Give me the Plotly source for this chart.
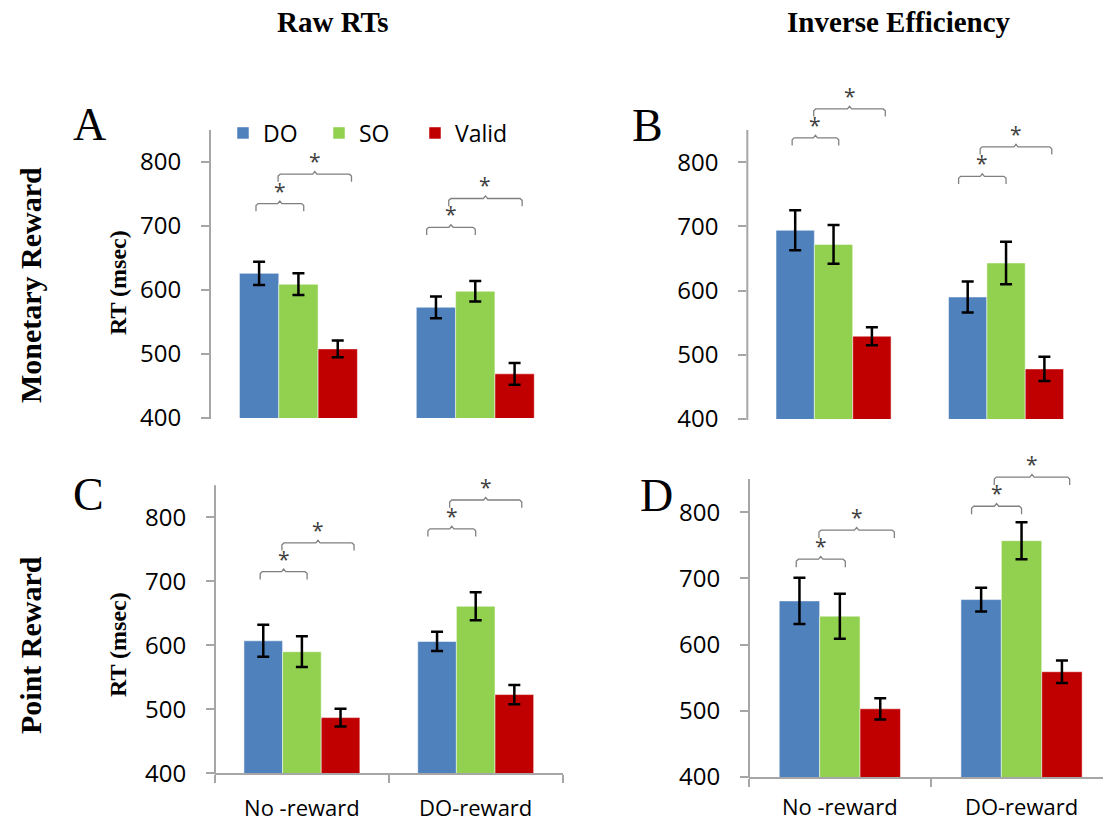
import plotly.graph_objects as go

# ---------------- data ----------------
groups = ["No -reward", "DO-reward"]
series = ["DO", "SO", "Valid"]
colors = ["#4F81BD", "#92D050", "#C00000"]
yticks = [400, 500, 600, 700, 800]

# Panel A: Raw RTs, Monetary Reward
a_do, a_so, a_valid = [626, 573], [609, 598], [508, 469]
a_do_err, a_so_err, a_valid_err = [18, 17], [17, 16], [13, 17]
a_brackets = [[735, 781], [698, 743]]

# Panel B: Inverse Efficiency, Monetary Reward
b_do, b_so, b_valid = [694, 590], [672, 643], [529, 478]
b_do_err, b_so_err, b_valid_err = [31, 24], [30, 33], [14, 19]
b_brackets = [[838, 883], [778, 824]]

# Panel C: Raw RTs, Point Reward
c_do, c_so, c_valid = [607, 606], [590, 661], [487, 523]
c_do_err, c_so_err, c_valid_err = [25, 15], [24, 22], [14, 15]
c_brackets = [[715, 760], [782, 827]]

# Panel D: Inverse Efficiency, Point Reward
d_do, d_so, d_valid = [666, 668], [643, 757], [503, 559]
d_do_err, d_so_err, d_valid_err = [35, 18], [34, 28], [16, 17]
d_brackets = [[729, 773], [809, 853]]

# bracket spans relative to group centre (left, right) for [group][bracket]
bracket_spans = [[(-0.24, 0.03), (-0.115, 0.30)], [(-0.275, 0.0), (-0.15, 0.265)]]

# ---------------- layout geometry ----------------
W, H = 1110, 825          # reference frame used for paper fractions
FIG_H = 840               # rendered figure height
panels = [
    dict(name="A", vals=[a_do, a_so, a_valid], errs=[a_do_err, a_so_err, a_valid_err], br=a_brackets,
         xd=[210 / W, 563.7 / W], yd=[1 - 418 / H, 1 - 98 / H], xr=[-0.5, 1.5], xaxis=False, standoff=0),
    dict(name="B", vals=[b_do, b_so, b_valid], errs=[b_do_err, b_so_err, b_valid_err], br=b_brackets,
         xd=[747.3 / W, 1092.3 / W], yd=[1 - 419 / H, 1 - 98 / H], xr=[-0.5, 1.5], xaxis=False, standoff=0),
    dict(name="C", vals=[c_do, c_so, c_valid], errs=[c_do_err, c_so_err, c_valid_err], br=c_brackets,
         xd=[215 / W, 562.6 / W], yd=[1 - 773.3 / H, 1 - 453.3 / H], xr=[-0.5, 1.5], xaxis=True, standoff=14),
    dict(name="D", vals=[d_do, d_so, d_valid], errs=[d_do_err, d_so_err, d_valid_err], br=d_brackets,
         xd=[749 / W, 1103.3 / W], yd=[1 - 777 / H, 1 - 446 / H], xr=[-0.5, 1.45], xaxis=True, standoff=10),
]
YR = [400, 900]
AXIS_TOP = 850
axis_col = "#A6A6A6"
sans = "Open Sans, Liberation Sans, sans-serif"
serif = "Liberation Serif, Times New Roman, serif"

fig = go.Figure()
shapes, annotations = [], []
layout = {}

for pi, p in enumerate(panels):
    sfx = "" if pi == 0 else str(pi + 1)
    xa, ya = "x" + sfx, "y" + sfx
    for si, s in enumerate(series):
        fig.add_trace(go.Bar(
            x=[0, 1], y=p["vals"][si], name=s, marker_color=colors[si],
            marker_line=dict(color="rgba(255,255,255,0.5)", width=1),
            error_y=dict(type="data", array=p["errs"][si], color="black", thickness=2.5, width=6),
            xaxis=xa, yaxis=ya, showlegend=(pi == 0), legendgroup=s, hoverinfo="y"))
    # significance brackets
    for g in range(2):
        for b in range(2):
            l, r = bracket_spans[g][b]
            x0, x1 = g + l, g + r
            xm = (x0 + x1) / 2
            top = p["br"][g][b]
            d = 12
            e = 0.012
            fig.add_trace(go.Scatter(
                x=[x0, x0, x0 + e, xm - e, xm, xm + e, x1 - e, x1, x1],
                y=[top - d, top - 3, top, top, top + 4, top, top, top - 3, top - d],
                mode="lines", line=dict(color="#808080", width=1.3),
                xaxis=xa, yaxis=ya, showlegend=False, hoverinfo="skip", cliponaxis=False))
            annotations.append(dict(x=xm, y=top, xref=xa, yref=ya, text="*", showarrow=False,
                                    xanchor="center", yanchor="middle",
                                    yshift=13, font=dict(family=sans, size=21, color="#404040")))
    xkey = "xaxis" + sfx
    ykey = "yaxis" + sfx
    xax = dict(domain=p["xd"], range=p["xr"], anchor=ya, showgrid=False, zeroline=False, fixedrange=True)
    if p["xaxis"]:
        xax.update(showline=True, linecolor=axis_col, linewidth=2, tickmode="array", tickvals=[0, 1],
                   ticktext=groups, ticks="", ticklabelstandoff=p["standoff"],
                   tickfont=dict(family=sans, size=22, color="black"),
                   minor=dict(tickmode="array", tickvals=[-0.5, 0.5, 1.5], ticks="outside", ticklen=8,
                              tickwidth=2, tickcolor=axis_col))
    else:
        xax.update(showline=False, showticklabels=False, ticks="")
    layout[xkey] = xax
    layout[ykey] = dict(domain=p["yd"], range=YR, anchor=xa, showgrid=False, zeroline=False, showline=False,
                        tickmode="array", tickvals=yticks, ticks="outside", ticklen=8, tickwidth=2,
                        tickcolor=axis_col, ticklabelstandoff=15,
                        tickfont=dict(family=sans, size=24, color="black"), fixedrange=True)
    # y axis line (stops at 850)
    y0p = p["yd"][0]
    y1p = p["yd"][0] + (AXIS_TOP - YR[0]) / (YR[1] - YR[0]) * (p["yd"][1] - p["yd"][0])
    shapes.append(dict(type="line", xref=xa + " domain", yref="paper", x0=0, x1=0, y0=y0p - 1 / H, y1=y1p,
                       line=dict(color=axis_col, width=2)))


def txt(text, px, py, size, angle=0, family=serif):
    return dict(text=text, x=px / W, y=1 - py / H, xref="paper", yref="paper", showarrow=False,
                xanchor="center", yanchor="middle", textangle=angle,
                font=dict(family=family, size=size, color="black"))


# titles & labels
annotations += [
    txt("<b>Raw RTs</b>", 333, 22, 29),
    txt("<b>Inverse Efficiency</b>", 899, 22, 29),
    txt("<b>Monetary Reward</b>", 30, 285, 30, -90),
    txt("<b>Point Reward</b>", 30, 645, 30, -90),
    txt("<b>RT (msec)</b>", 118, 283, 24, -90),
    txt("<b>RT (msec)</b>", 118, 645, 24, -90),
]
for lbl, px, py in [("A", 89, 125), ("B", 647, 126), ("C", 88, 494), ("D", 656, 495)]:
    annotations.append(txt(lbl, px, py, 46))

fig.update_layout(
    autosize=True, margin=dict(l=0, r=0, t=0, b=0),
    paper_bgcolor="white", plot_bgcolor="white",
    barmode="group", bargap=0.333, bargroupgap=0,
    shapes=shapes, annotations=annotations,
    legend=dict(orientation="h", x=223 / W, xanchor="left", y=1 - 133 / H, yanchor="middle",
                entrywidth=51, entrywidthmode="pixels", font=dict(family=sans, size=23, color="black"),
                bgcolor="rgba(0,0,0,0)", tracegroupgap=0, itemclick=False, itemdoubleclick=False),
    **layout,
)
# the plot div is pinned to the page's top-left corner
fig.write_html("out.html", config={"displayModeBar": False, "responsive": False},
               default_width=f"{W}px; position:absolute; left:0; top:0",
               default_height=f"{FIG_H}px")
